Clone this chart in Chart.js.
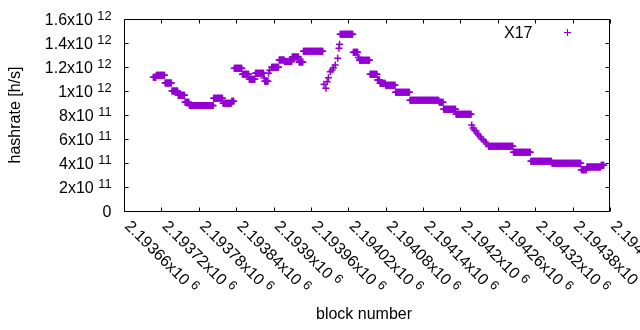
<!DOCTYPE html>
<html>
<head>
<meta charset="utf-8">
<script src="https://cdn.jsdelivr.net/npm/chart.js@4.4.1/dist/chart.umd.min.js"></script>
<style>
    html, body { margin: 0; padding: 0; background: #fff; }
    #wrap { width: 640px; height: 330px; }
</style>
</head>
<body>
<div id="wrap"><canvas id="hashrate-chart" width="640" height="330"></canvas></div>
<script>
const SERIES_NAME = "X17";
const SERIES_COLOR = "#9400d3";
const X_MIN = 2193660;
const X_MAX = 2194440;
const Y_MAX = 1.6e12;

// runs of consecutive blocks sharing one hashrate estimate: first block, last block, h/s
const runFirst = [
    2193707, 2193712, 2193726, 2193737, 2193747, 2193758, 2193765, 2193804, 2193819, 2193833,
    2193837, 2193850, 2193861, 2193871, 2193885, 2193886, 2193892, 2193894, 2193897, 2193909,
    2193918, 2193930, 2193941, 2193948, 2193981, 2193984, 2193986, 2193988, 2193991, 2193994,
    2193996, 2193999, 2194003, 2194005, 2194006, 2194007, 2194028, 2194036, 2194038, 2194055,
    2194067, 2194071, 2194080, 2194096, 2194119, 2194166, 2194173, 2194193, 2194218, 2194220,
    2194222, 2194225, 2194227, 2194229, 2194232, 2194234, 2194237, 2194240, 2194242, 2194245,
    2194285, 2194313, 2194347, 2194394, 2194403, 2194426
];
const runLast = [
    2193711, 2193725, 2193736, 2193746, 2193757, 2193764, 2193803, 2193818, 2193832, 2193836,
    2193849, 2193860, 2193870, 2193884, 2193885, 2193891, 2193892, 2193894, 2193908, 2193917,
    2193929, 2193940, 2193947, 2193979, 2193981, 2193984, 2193986, 2193988, 2193991, 2193994,
    2193996, 2193999, 2194003, 2194005, 2194006, 2194027, 2194035, 2194037, 2194054, 2194066,
    2194070, 2194079, 2194095, 2194118, 2194165, 2194172, 2194192, 2194217, 2194218, 2194220,
    2194222, 2194225, 2194227, 2194229, 2194232, 2194234, 2194237, 2194240, 2194242, 2194284,
    2194312, 2194346, 2194393, 2194402, 2194425, 2194430
];
const runRate = [
    1.114e12, 1.131e12, 1.067e12, 1.000e12, 0.964e12, 0.906e12, 0.880e12, 0.939e12, 0.897e12, 0.915e12,
    1.189e12, 1.139e12, 1.097e12, 1.147e12, 1.108e12, 1.081e12, 1.147e12, 1.175e12, 1.197e12, 1.258e12,
    1.245e12, 1.283e12, 1.242e12, 1.331e12, 1.056e12, 1.022e12, 1.078e12, 1.111e12, 1.161e12, 1.175e12,
    1.194e12, 1.217e12, 1.272e12, 1.356e12, 1.389e12, 1.472e12, 1.322e12, 1.280e12, 1.256e12, 1.139e12,
    1.092e12, 1.064e12, 1.047e12, 0.989e12, 0.922e12, 0.906e12, 0.847e12, 0.806e12, 0.717e12, 0.692e12,
    0.675e12, 0.667e12, 0.646e12, 0.633e12, 0.617e12, 0.600e12, 0.592e12, 0.575e12, 0.558e12, 0.539e12,
    0.489e12, 0.414e12, 0.397e12, 0.344e12, 0.367e12, 0.381e12
];

const xTickValues = [
    2193660, 2193720, 2193780, 2193840, 2193900, 2193960, 2194020,
    2194080, 2194140, 2194200, 2194260, 2194320, 2194380, 2194440
];
const xTickText = [
    "2.19366x10", "2.19372x10", "2.19378x10", "2.19384x10", "2.1939x10", "2.19396x10", "2.19402x10",
    "2.19408x10", "2.19414x10", "2.1942x10", "2.19426x10", "2.19432x10", "2.19438x10", "2.19444x10"
];
const xTickExp = ["6", "6", "6", "6", "6", "6", "6", "6", "6", "6", "6", "6", "6", "6"];

const yTickValues = [0, 2e11, 4e11, 6e11, 8e11, 1e12, 1.2e12, 1.4e12, 1.6e12];
const yTickText = ["0", "2x10", "4x10", "6x10", "8x10", "1x10", "1.2x10", "1.4x10", "1.6x10"];
const yTickExp = ["", "11", "11", "11", "11", "12", "12", "12", "12"];

const MAIN_FONT = "16px 'Liberation Sans', Arial, sans-serif";
const SUP_FONT = "12.8px 'Liberation Sans', Arial, sans-serif";

const points = [];
runFirst.forEach((first, i) => {
    for (let block = first; block <= runLast[i]; block++) {
        points.push({ x: block, y: runRate[i] });
    }
});

const drawPowerLabel = (ctx, main, exp, x, y, align) => {
    ctx.font = MAIN_FONT;
    const mainText = exp ? main + " " : main;
    const mainWidth = ctx.measureText(mainText).width;
    ctx.font = SUP_FONT;
    const expWidth = exp ? ctx.measureText(exp).width : 0;
    const startX = align === "right" ? x - mainWidth - expWidth : x;
    ctx.textAlign = "left";
    ctx.textBaseline = "alphabetic";
    ctx.font = MAIN_FONT;
    ctx.fillText(mainText, startX, y + 5.5);
    if (exp) {
        ctx.font = SUP_FONT;
        ctx.fillText(exp, startX + mainWidth, y + 0.5);
    }
};

// gnuplot look: closed border, inward mirrored tics, 10^n labels, key on the right
const gnuplotFrame = {
    id: "gnuplotFrame",
    afterDatasetsDraw(chart) {
        const { ctx, chartArea: area, scales: { x, y } } = chart;
        const left = Math.round(area.left) + 0.5;
        const right = Math.round(area.right) - 0.5;
        const top = Math.round(area.top) + 0.5;
        const bottom = Math.round(area.bottom) + 0.5;
        const tic = 4;

        ctx.save();
        ctx.strokeStyle = "#000";
        ctx.lineWidth = 1;
        ctx.beginPath();
        ctx.rect(left, top, right - left, bottom - top);
        xTickValues.forEach(v => {
            const px = Math.round(x.getPixelForValue(v)) + 0.5;
            ctx.moveTo(px, bottom);
            ctx.lineTo(px, bottom - tic);
            ctx.moveTo(px, top);
            ctx.lineTo(px, top + tic);
        });
        yTickValues.forEach(v => {
            const py = Math.round(y.getPixelForValue(v)) + 0.5;
            ctx.moveTo(left, py);
            ctx.lineTo(left + tic, py);
            ctx.moveTo(right, py);
            ctx.lineTo(right - tic, py);
        });
        ctx.stroke();

        ctx.fillStyle = "#000";
        yTickValues.forEach((v, i) => {
            drawPowerLabel(ctx, yTickText[i], yTickExp[i], 111.5, y.getPixelForValue(v), "right");
        });

        xTickValues.forEach((v, i) => {
            ctx.save();
            ctx.translate(x.getPixelForValue(v) + 4, area.bottom + 12);
            ctx.rotate(Math.PI / 4);
            drawPowerLabel(ctx, xTickText[i], xTickExp[i], 0, 0, "left");
            ctx.restore();
        });

        ctx.font = MAIN_FONT;
        ctx.textAlign = "center";
        ctx.textBaseline = "middle";
        ctx.fillText("block number", 364, 315);

        ctx.save();
        ctx.translate(16, 115);
        ctx.rotate(-Math.PI / 2);
        ctx.fillText("hashrate [h/s]", 0, 0);
        ctx.restore();

        // key
        ctx.textAlign = "right";
        ctx.textBaseline = "alphabetic";
        ctx.fillText(SERIES_NAME, 532.5, 37.5);
        ctx.strokeStyle = SERIES_COLOR;
        ctx.beginPath();
        ctx.moveTo(564, 32.5);
        ctx.lineTo(571, 32.5);
        ctx.moveTo(567.5, 29);
        ctx.lineTo(567.5, 36);
        ctx.stroke();
        ctx.restore();
    }
};

new Chart(document.getElementById("hashrate-chart"), {
    type: "scatter",
    data: {
        datasets: [{
            label: SERIES_NAME,
            data: points,
            pointStyle: "cross",
            pointRadius: 3.5,
            pointHoverRadius: 3.5,
            borderColor: SERIES_COLOR,
            backgroundColor: SERIES_COLOR,
            borderWidth: 1.5,
            showLine: false
        }]
    },
    options: {
        responsive: false,
        animation: false,
        devicePixelRatio: 1,
        layout: {
            padding: { left: 124, right: 30, top: 19, bottom: 119 }
        },
        scales: {
            x: { type: "linear", min: X_MIN, max: X_MAX, display: false },
            y: { type: "linear", min: 0, max: Y_MAX, display: false }
        },
        plugins: {
            legend: { display: false },
            tooltip: { enabled: false }
        }
    },
    plugins: [gnuplotFrame]
});
</script>
</body>
</html>
